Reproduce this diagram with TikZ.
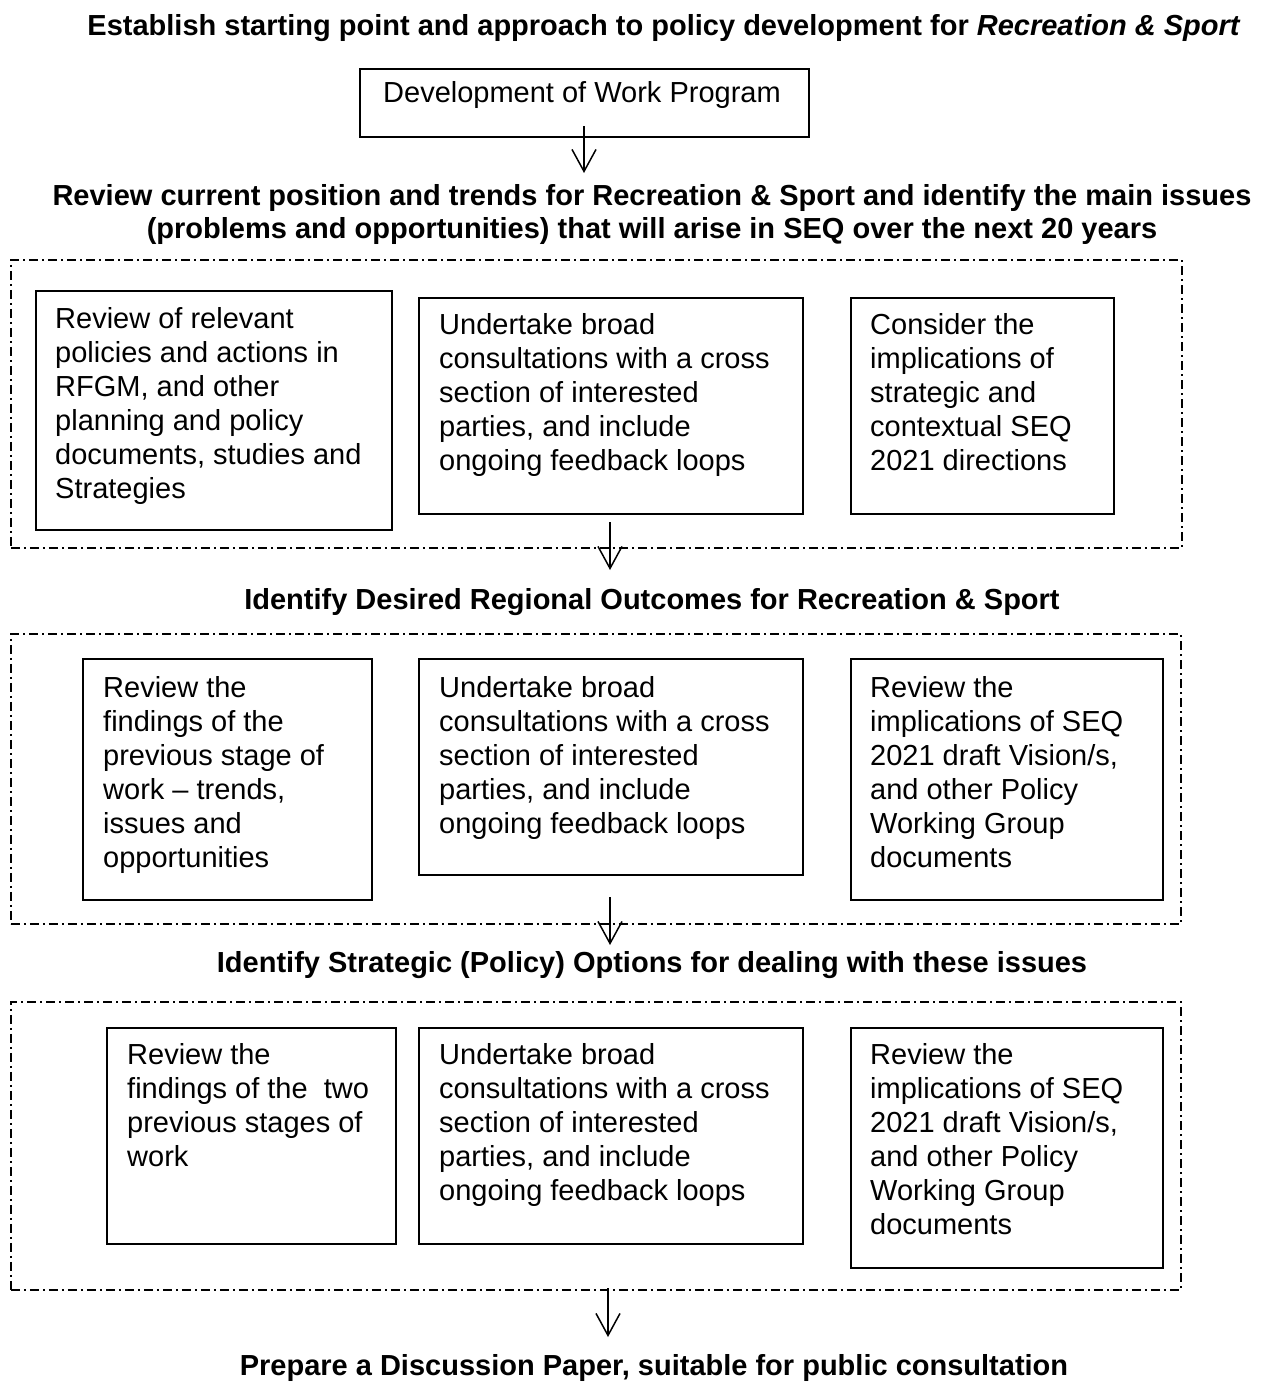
\documentclass[tikz,border=0pt]{standalone}
\usepackage{fontspec}
\setmainfont{Liberation Sans}
\usetikzlibrary{arrows.meta}
\begin{document}
\begin{tikzpicture}[x=1pt,y=-1pt,
  box/.style={draw, line width=1.8pt, inner sep=0pt, anchor=north west},
  txt/.style={inner sep=0pt, anchor=north west, align=left, font=\fontsize{29}{34}\selectfont},
  ttl/.style={inner sep=0pt, anchor=base, align=center, font=\fontsize{29}{33}\selectfont\bfseries},
  stage/.style={draw, line width=1.6pt, dash pattern=on 9pt off 4pt on 2pt off 4pt, inner sep=0pt, anchor=north west},
  flow/.style={line width=1.5pt, -{Straight Barb[length=22pt,width=24pt]}}]

\fill[white] (0,0) rectangle (1262,1384);
\path[use as bounding box] (0,0) rectangle (1262,1384);

% titles
\node[ttl] (t1) at (664,35) {Establish starting point and approach to policy development for \textit{Recreation \& Sport}};
\node[ttl, anchor=center] (t2) at (652,214) {Review current position and trends for Recreation \& Sport and identify the main issues\\(problems and opportunities) that will arise in SEQ over the next 20 years};
\node[ttl] (t3) at (652,609) {Identify Desired Regional Outcomes for Recreation \& Sport};
\node[ttl] (t4) at (652,972) {Identify Strategic (Policy) Options for dealing with these issues};
\node[ttl] (t5) at (654,1375) {Prepare a Discussion Paper, suitable for public consultation};

% work program box
\node[box, minimum width=449pt, minimum height=68pt] (w) at (359,68) {};
\node[txt] (wt) at (383,81) {Development of Work Program};

% stage 1
\node[stage, minimum width=1171pt, minimum height=288pt] (s1) at (10,259) {};
\node[box, minimum width=356pt, minimum height=239pt] (a1) at (35,290) {};
\node[txt] (a1t) at (55,307) {Review of relevant\\policies and actions in\\RFGM, and other\\planning and policy\\documents, studies and\\Strategies};
\node[box, minimum width=384pt, minimum height=216pt] (a2) at (418,297) {};
\node[txt] (a2t) at (439,313) {Undertake broad\\consultations with a cross\\section of interested\\parties, and include\\ongoing feedback loops};
\node[box, minimum width=263pt, minimum height=216pt] (a3) at (850,297) {};
\node[txt] (a3t) at (870,313) {Consider the\\implications of\\strategic and\\contextual SEQ\\2021 directions};

% stage 2
\node[stage, minimum width=1170pt, minimum height=290pt] (s2) at (10,633) {};
\node[box, minimum width=289pt, minimum height=241pt] (b1) at (82,658) {};
\node[txt] (b1t) at (103,676) {Review the\\findings of the\\previous stage of\\work – trends,\\issues and\\opportunities};
\node[box, minimum width=384pt, minimum height=216pt] (b2) at (418,658) {};
\node[txt] (b2t) at (439,676) {Undertake broad\\consultations with a cross\\section of interested\\parties, and include\\ongoing feedback loops};
\node[box, minimum width=312pt, minimum height=241pt] (b3) at (850,658) {};
\node[txt] (b3t) at (870,676) {Review the\\implications of SEQ\\2021 draft Vision/s,\\and other Policy\\Working Group\\documents};

% stage 3
\node[stage, minimum width=1170pt, minimum height=288pt] (s3) at (10,1001) {};
\node[box, minimum width=289pt, minimum height=216pt] (c1) at (106,1027) {};
\node[txt] (c1t) at (127,1043) {Review the\\findings of the\ \ two\\previous stages of\\work};
\node[box, minimum width=384pt, minimum height=216pt] (c2) at (418,1027) {};
\node[txt] (c2t) at (439,1043) {Undertake broad\\consultations with a cross\\section of interested\\parties, and include\\ongoing feedback loops};
\node[box, minimum width=312pt, minimum height=240pt] (c3) at (850,1027) {};
\node[txt] (c3t) at (870,1043) {Review the\\implications of SEQ\\2021 draft Vision/s,\\and other Policy\\Working Group\\documents};

% arrows
\coordinate (f1s) at (584,126);
\coordinate (f1e) at (584,173);
\coordinate (f2s) at (610,522);
\coordinate (f2e) at (610,570);
\coordinate (f3s) at (610,897);
\coordinate (f3e) at (610,945);
\coordinate (f4s) at (608,1288);
\coordinate (f4e) at (608,1337);
\draw[flow] (f1s) -- (f1e);
\draw[flow] (f2s) -- (f2e);
\draw[flow] (f3s) -- (f3e);
\draw[flow] (f4s) -- (f4e);
\end{tikzpicture}
\end{document}
